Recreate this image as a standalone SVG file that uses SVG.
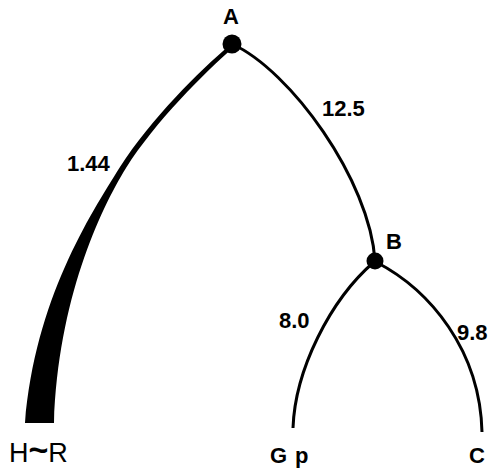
<svg xmlns="http://www.w3.org/2000/svg" width="492" height="472" viewBox="0 0 492 472">
  <style>
    .edge { fill: none; stroke: #000; stroke-width: 3; stroke-linecap: butt; }
    .node { fill: #000; }
    .lbl { font-family: "Liberation Sans", Arial, sans-serif; font-size: 22px; font-weight: bold; fill: #000; }
    .num { font-family: "Liberation Sans", Arial, sans-serif; font-size: 22px; font-weight: bold; fill: #000; }
  </style>
  <rect width="492" height="472" fill="#fff"/>
  <g id="connectors">
    <path id="edge-A-HR" d="M229,46 C200,70 150,120 120,167 C90,215 35,300 25,423 L54,423 C58,300 100,210 126,168 C155,122 205,72 234,47 Z" fill="#000" stroke="none"/>
    <path id="edge-A-B" class="edge" d="M232,44 C290,70 370,180 375,261"/>
    <path id="edge-B-Gp" class="edge" d="M374,262 C330,300 295,370 293,428"/>
    <path id="edge-B-C" class="edge" d="M376,262 C430,290 480,350 482,432"/>
    <text class="num" x="67" y="171">1.44</text>
    <text class="num" x="322" y="116">12.5</text>
    <text class="num" x="279" y="328">8.0</text>
    <text class="num" x="457" y="340">9.8</text>
  </g>
  <g id="node-A">
    <circle class="node" cx="232" cy="44" r="9.5"/>
    <text class="lbl" x="223" y="24">A</text>
  </g>
  <g id="node-B">
    <circle class="node" cx="375" cy="261" r="8.5"/>
    <text class="lbl" x="386" y="249">B</text>
  </g>
  <g id="node-HR">
    <text x="9" y="462" style="font-family:'Liberation Sans', Arial, sans-serif; font-size:27px; fill:#000">H<tspan style="font-size:34px; font-weight:bold" dy="-1">~</tspan><tspan dy="1">R</tspan></text>
  </g>
  <g id="node-Gp">
    <text class="lbl" x="270" y="463" letter-spacing="8">Gp</text>
  </g>
  <g id="node-C">
    <text class="lbl" x="469" y="463">C</text>
  </g>
</svg>
